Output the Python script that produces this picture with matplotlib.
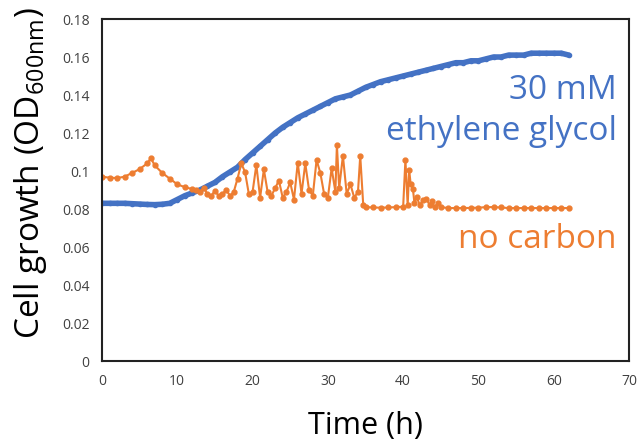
import matplotlib
matplotlib.use("Agg")
import matplotlib.pyplot as plt

plt.rcParams["font.family"] = ["Open Sans", "DejaVu Sans"]
plt.rcParams["mathtext.fontset"] = "custom"
plt.rcParams["mathtext.rm"] = "Open Sans"

BLUE = "#4472C4"
ORANGE = "#ED7D31"

# 30 mM ethylene glycol (hourly readings)
eg_time = list(range(0, 63))
eg_od = [0.083, 0.083, 0.083, 0.083, 0.0828, 0.0826, 0.0824, 0.0823, 0.0825, 0.083,
         0.085, 0.087, 0.0885, 0.090, 0.092, 0.094, 0.097, 0.0995, 0.102, 0.106,
         0.1095, 0.113, 0.1165, 0.120, 0.123, 0.1255, 0.128, 0.130, 0.132, 0.134,
         0.136, 0.138, 0.139, 0.140, 0.142, 0.144, 0.1455, 0.147, 0.148, 0.149,
         0.150, 0.151, 0.152, 0.153, 0.154, 0.155, 0.156, 0.157, 0.157, 0.158,
         0.158, 0.159, 0.160, 0.160, 0.161, 0.161, 0.161, 0.162, 0.162, 0.162,
         0.162, 0.162, 0.161]

# no carbon
nc_time = [0, 1, 2, 3, 4, 5, 6, 6.5, 7, 8, 9, 10, 11,
           12.0, 12.5, 13.0, 13.5, 14.0, 14.5, 15.0, 15.5, 16.0, 16.5, 17.0, 17.5,
           18.0, 18.5, 19.0, 19.5, 20.0, 20.5, 21.0, 21.5, 22.0, 22.5, 23.0, 23.5,
           24.0, 24.5, 25.0, 25.5, 26.0, 26.5, 27.0, 27.5, 28.0, 28.5, 29.0, 29.5,
           30.0, 30.5, 31.0, 31.2, 31.5, 32.0, 32.5, 33.0, 33.5, 34.0, 34.3, 34.7,
           35, 36, 37, 38, 39, 40, 40.3, 40.6, 40.8, 41.0, 41.3, 41.5, 41.8, 42.2,
           42.6, 43.1, 43.5, 43.8, 44.2, 44.6, 45, 46, 47, 48, 49, 50, 51, 52, 53,
           54, 55, 56, 57, 58, 59, 60, 61, 62]
nc_od = [0.097, 0.0965, 0.0963, 0.097, 0.099, 0.101, 0.104, 0.1067, 0.103, 0.099, 0.096, 0.093, 0.0915,
         0.0905, 0.090, 0.089, 0.091, 0.088, 0.087, 0.0895, 0.087, 0.088, 0.090, 0.087, 0.089,
         0.096, 0.104, 0.0995, 0.088, 0.089, 0.1032, 0.086, 0.1008, 0.089, 0.087, 0.091, 0.095,
         0.086, 0.089, 0.094, 0.085, 0.1044, 0.088, 0.104, 0.090, 0.087, 0.1058, 0.099, 0.088,
         0.086, 0.1014, 0.089, 0.1137, 0.091, 0.108, 0.088, 0.093, 0.086, 0.089, 0.108, 0.082,
         0.081, 0.0808, 0.0807, 0.0808, 0.081, 0.0812, 0.1058, 0.082, 0.1005, 0.093, 0.0905, 0.083, 0.0865, 0.082,
         0.0845, 0.0855, 0.082, 0.084, 0.081, 0.083, 0.081, 0.0805, 0.0805, 0.0805, 0.0806, 0.0807, 0.081, 0.081, 0.0808,
         0.0805, 0.0805, 0.0805, 0.0805, 0.0805, 0.0805, 0.0805, 0.0805, 0.0805]

x_ticks = [0, 10, 20, 30, 40, 50, 60, 70]
y_ticks = [0, 0.02, 0.04, 0.06, 0.08, 0.1, 0.12, 0.14, 0.16, 0.18]
y_tick_labels = ["0", "0.02", "0.04", "0.06", "0.08", "0.1", "0.12", "0.14", "0.16", "0.18"]

fig = plt.figure(figsize=(6.39, 4.40), dpi=100)
ax = fig.add_axes([0.1596, 0.1795, 0.8248, 0.7773])

ax.plot(eg_time, eg_od, color=BLUE, lw=4, marker="o", ms=3, solid_capstyle="round")
ax.plot(nc_time, nc_od, color=ORANGE, lw=1.5, marker="o", ms=3.5)

ax.set_xlim(0, 70)
ax.set_ylim(0, 0.18)
ax.set_xticks(x_ticks)
ax.set_yticks(y_ticks)
ax.set_yticklabels(y_tick_labels)
ax.tick_params(length=0, labelsize=10, labelcolor="#404040", pad=9)
for s in ax.spines.values():
    s.set_color("#222222")
    s.set_linewidth(1.5)

ax.set_xlabel("Time (h)", fontsize=22, labelpad=16)
ax.set_ylabel("Cell growth (OD$_{\\mathregular{600nm}}$)", fontsize=24)
ax.yaxis.set_label_coords(-0.10, 0.55)

ax.text(68.4, 0.138, "30 mM", color=BLUE, fontsize=24, ha="right", va="baseline")
ax.text(68.4, 0.1163, "ethylene glycol", color=BLUE, fontsize=24, ha="right", va="baseline")
ax.text(68.4, 0.0595, "no carbon", color=ORANGE, fontsize=24, ha="right", va="baseline")

fig.savefig("out.png", dpi=100)
